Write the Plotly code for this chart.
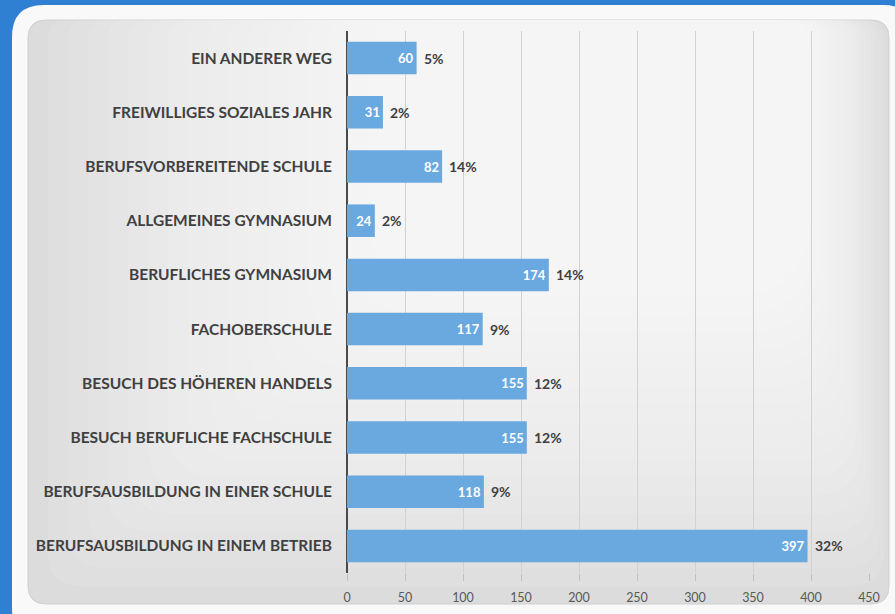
import plotly.graph_objects as go

categories = [
    "EIN ANDERER WEG",
    "FREIWILLIGES SOZIALES JAHR",
    "BERUFSVORBEREITENDE SCHULE",
    "ALLGEMEINES GYMNASIUM",
    "BERUFLICHES GYMNASIUM",
    "FACHOBERSCHULE",
    "BESUCH DES HÖHEREN HANDELS",
    "BESUCH BERUFLICHE FACHSCHULE",
    "BERUFSAUSBILDUNG IN EINER SCHULE",
    "BERUFSAUSBILDUNG IN EINEM BETRIEB",
]
values = [60, 31, 82, 24, 174, 117, 155, 155, 118, 397]
percents = ["5%", "2%", "14%", "2%", "14%", "9%", "12%", "12%", "9%", "32%"]
x_ticks = [0, 50, 100, 150, 200, 250, 300, 350, 400, 450]

W, H = 895, 614
L, R, T, B = 347, 26, 31, 41
PW, PH = W - L - R, H - T - B

fig = go.Figure()
fig.add_trace(go.Bar(
    y=categories, x=values, orientation="h",
    marker=dict(color="#6aa8e0", line=dict(width=0)),
    width=0.6,
    text=[str(v) for v in values],
    textposition="inside", insidetextanchor="end",
    textfont=dict(color="white", size=13, family="Lato", weight="bold"),
    cliponaxis=False,
))

for c, v, p in zip(categories, values, percents):
    fig.add_annotation(x=v, y=c, xref="x", yref="y", text=p, showarrow=False,
                       xanchor="left", xshift=5,
                       font=dict(color="#404040", size=14, family="Lato", weight="bold"))

def px(x):
    return (x - L) / PW
def py(y):
    return 1 - (y - T) / PH

def rounded(x0, y0, x1, y1, r, rb=None):
    rb = r if rb is None else rb
    pts = [
        f"M {px(x0+r)},{py(y0)}",
        f"L {px(x1-r)},{py(y0)}",
        f"Q {px(x1)},{py(y0)} {px(x1)},{py(y0+r)}",
        f"L {px(x1)},{py(y1-rb)}",
        f"Q {px(x1)},{py(y1)} {px(x1-rb)},{py(y1)}",
        f"L {px(x0+rb)},{py(y1)}",
        f"Q {px(x0)},{py(y1)} {px(x0)},{py(y1-rb)}",
        f"L {px(x0)},{py(y0+r)}",
        f"Q {px(x0)},{py(y0)} {px(x0+r)},{py(y0)}",
    ]
    return " ".join(pts) + " Z"

shapes = [
    dict(type="path", xref="paper", yref="paper", layer="below",
         path=rounded(12, 5, 915, 640, 32), fillcolor="#f9f9f9", line=dict(width=0)),
    dict(type="path", xref="paper", yref="paper", layer="below",
         path=rounded(28, 20, 889, 604, 18), fillcolor="#dcdcdc",
         line=dict(color="#d0d0d0", width=1)),
]
N = 26
for i in range(N):
    t = (i + 1) / N
    x0 = 28 + t * 520
    x1 = 889 - t * 120
    y1 = 604 - t * 470
    r = 18 + t * 10
    rb = 30 + t * 80
    shapes.append(dict(type="path", xref="paper", yref="paper", layer="below",
                       path=rounded(x0, 20, x1, y1, r, rb),
                       fillcolor="rgba(255,255,255,0.09)", line=dict(width=0)))

fig.update_layout(
    width=W, height=H,
    margin=dict(l=L, r=R, t=T, b=B),
    paper_bgcolor="#2f80d2",
    plot_bgcolor="rgba(0,0,0,0)",
    shapes=shapes,
    showlegend=False,
    xaxis=dict(range=[0, 450], tickvals=x_ticks, showgrid=True, gridcolor="#d2d2d2",
               gridwidth=1, zeroline=True, zerolinecolor="#4a4a4a", zerolinewidth=2,
               ticks="outside", ticklen=7, tickcolor="#c0c0c0",
               ticklabelstandoff=6,
               tickfont=dict(color="#595959", size=12.5, family="Lato"),
               showline=False, fixedrange=True, automargin=False),
    yaxis=dict(autorange="reversed", ticks="", ticklabelstandoff=14,
               tickfont=dict(color="#404040", size=15.5, family="Lato", weight="bold"),
               showgrid=False, showline=False, fixedrange=True),
)

fig.write_html("out.html")
